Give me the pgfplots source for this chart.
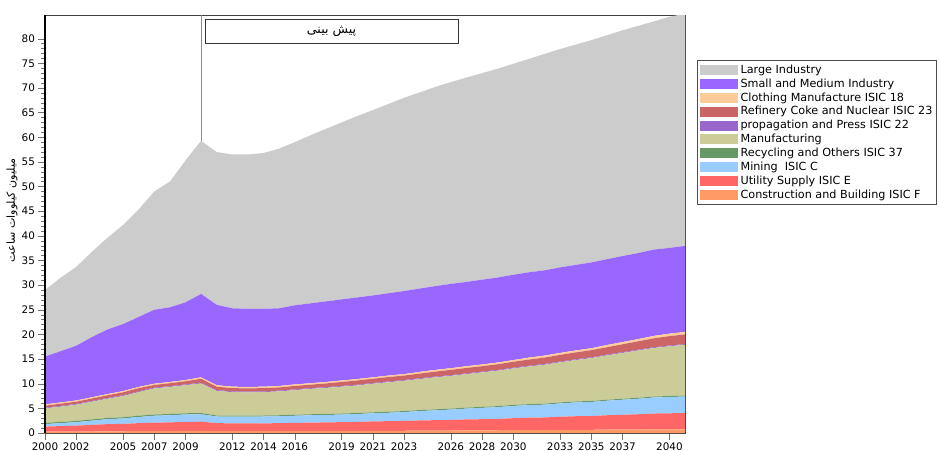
\documentclass[border=0pt]{standalone}
\usepackage{pgfplots}
\pgfplotsset{compat=1.18}
\usepackage{pgfplotstable}
\usepackage{fontspec}
\setmainfont{DejaVu Sans}
\newfontfamily\arabicfont[Script=Arabic]{DejaVu Sans}
\TeXXeTstate=1

\definecolor{cLarge}{HTML}{CCCCCC}
\definecolor{cSME}{HTML}{9966FF}
\definecolor{cCloth}{HTML}{FFCC99}
\definecolor{cRefin}{HTML}{CC6666}
\definecolor{cProp}{HTML}{9966CC}
\definecolor{cManuf}{HTML}{CCCC99}
\definecolor{cRecyc}{HTML}{669966}
\definecolor{cMining}{HTML}{99CCFF}
\definecolor{cUtil}{HTML}{FF6666}
\definecolor{cConst}{HTML}{FF9966}

% million kWh per sector (stacked bottom to top)
\pgfplotstableread{
year C    U    Mi   R    Ma    P    Rf   Cl   S     L
2000 0.30 1.00 0.50 0.25 2.95  0.15 0.40 0.25 9.70  13.50
2001 0.30 1.10 0.60 0.25 3.10  0.15 0.45 0.25 10.40 14.90
2002 0.30 1.20 0.70 0.25 3.30  0.15 0.45 0.25 11.10 16.00
2003 0.30 1.35 0.85 0.25 3.60  0.15 0.50 0.25 12.20 17.30
2004 0.35 1.45 1.00 0.25 3.90  0.15 0.55 0.25 13.10 18.60
2005 0.35 1.50 1.10 0.25 4.30  0.15 0.60 0.25 13.60 20.10
2006 0.40 1.60 1.25 0.25 4.80  0.15 0.65 0.25 14.20 21.80
2007 0.40 1.70 1.40 0.25 5.30  0.15 0.55 0.25 15.00 24.00
2008 0.40 1.75 1.45 0.25 5.50  0.15 0.60 0.25 15.15 25.50
2009 0.45 1.80 1.50 0.25 5.70  0.15 0.65 0.25 15.75 28.80
2010 0.45 1.85 1.50 0.25 6.00  0.15 0.80 0.30 16.90 31.10
2011 0.40 1.60 1.35 0.20 5.00  0.15 0.70 0.30 16.30 31.00
2012 0.40 1.55 1.35 0.20 4.80  0.15 0.65 0.30 15.90 31.20
2013 0.40 1.55 1.35 0.20 4.75  0.15 0.65 0.30 15.85 31.30
2014 0.40 1.55 1.40 0.20 4.75  0.15 0.65 0.30 15.80 31.60
2015 0.40 1.60 1.40 0.20 4.85  0.15 0.65 0.30 15.75 32.40
2016 0.40 1.65 1.45 0.20 5.00  0.15 0.70 0.30 16.05 33.10
2017 0.40 1.70 1.50 0.20 5.15  0.15 0.70 0.30 16.20 34.10
2018 0.40 1.75 1.50 0.20 5.30  0.15 0.75 0.30 16.35 35.00
2019 0.40 1.80 1.55 0.20 5.45  0.15 0.80 0.30 16.45 35.90
2020 0.40 1.85 1.60 0.20 5.60  0.15 0.85 0.30 16.55 36.80
2021 0.45 1.90 1.65 0.20 5.80  0.15 0.85 0.30 16.60 37.60
2022 0.45 1.95 1.70 0.20 6.00  0.15 0.90 0.30 16.70 38.40
2023 0.45 2.00 1.80 0.20 6.15  0.15 0.90 0.30 16.85 39.20
2024 0.50 2.05 1.90 0.20 6.30  0.15 0.95 0.35 16.90 39.80
2025 0.50 2.10 2.00 0.20 6.50  0.15 1.00 0.35 17.00 40.40
2026 0.50 2.15 2.10 0.20 6.65  0.15 1.05 0.35 17.10 40.95
2027 0.55 2.20 2.20 0.20 6.80  0.15 1.10 0.35 17.10 41.45
2028 0.55 2.25 2.30 0.20 7.00  0.15 1.10 0.35 17.20 41.90
2029 0.55 2.30 2.40 0.20 7.20  0.15 1.15 0.35 17.25 42.35
2030 0.60 2.40 2.50 0.20 7.40  0.15 1.20 0.35 17.30 42.80
2031 0.60 2.50 2.55 0.20 7.65  0.15 1.25 0.40 17.30 43.30
2032 0.60 2.55 2.60 0.20 7.90  0.15 1.30 0.40 17.30 43.90
2033 0.65 2.65 2.70 0.20 8.15  0.15 1.35 0.40 17.35 44.30
2034 0.65 2.75 2.80 0.20 8.40  0.15 1.40 0.40 17.35 44.70
2035 0.65 2.80 2.85 0.20 8.70  0.15 1.45 0.40 17.40 45.10
2036 0.70 2.90 2.95 0.20 9.00  0.15 1.50 0.45 17.40 45.45
2037 0.70 3.00 3.05 0.20 9.30  0.15 1.60 0.45 17.45 45.80
2038 0.70 3.10 3.15 0.20 9.60  0.15 1.70 0.45 17.45 46.10
2039 0.75 3.20 3.25 0.20 9.85  0.15 1.80 0.50 17.50 46.30
2040 0.75 3.25 3.30 0.20 10.10 0.15 1.90 0.50 17.40 46.90
2041 0.75 3.30 3.35 0.20 10.30 0.15 1.95 0.50 17.45 47.10
}\energy

\pgfplotsset{
  myarea/.style={fill=#1, draw=none,
    legend image code/.code={\fill[#1] (0pt,-3.8pt) rectangle (29pt,3.8pt);}},
}

\begin{document}
\begin{tikzpicture}
\begin{axis}[
    name=ax,
    scale only axis,
    width=480pt, height=313.5pt,
    xmin=2000, xmax=2041,
    ymin=0, ymax=84.8,
    stack plots=y,
    xtick={2000,2002,2005,2007,2009,2012,2014,2016,2019,2021,2023,2026,2028,2030,2033,2035,2037,2040},
    ytick={0,5,...,80},
    minor y tick num=4,
    xtick pos=bottom, ytick pos=left,
    tick align=outside,
    major tick length=5pt,
    minor tick length=3pt,
    tick style={black!55},
    axis line style={black!75},
    /pgf/number format/1000 sep={},
    /pgf/number format/assume math mode=true,
    tick label style={font=\fontsize{7.8}{9}\selectfont},
    xticklabel style={yshift=1pt},
    yticklabel style={xshift=1pt},
    reverse legend,
    legend cell align=left,
    legend style={at={(1.01875,0.8923)}, anchor=north west,
        draw=black!70, line width=1pt,
        font=\fontsize{8.4}{9.4}\selectfont,
        inner sep=1.5pt, row sep=-0.9pt,
        nodes={inner sep=1.7pt}},
]
\addplot[myarea=cConst]  table[x=year, y=C]  {\energy} \closedcycle;
\addplot[myarea=cUtil]   table[x=year, y=U]  {\energy} \closedcycle;
\addplot[myarea=cMining] table[x=year, y=Mi] {\energy} \closedcycle;
\addplot[myarea=cRecyc]  table[x=year, y=R]  {\energy} \closedcycle;
\addplot[myarea=cManuf]  table[x=year, y=Ma] {\energy} \closedcycle;
\addplot[myarea=cProp]   table[x=year, y=P]  {\energy} \closedcycle;
\addplot[myarea=cRefin]  table[x=year, y=Rf] {\energy} \closedcycle;
\addplot[myarea=cCloth]  table[x=year, y=Cl] {\energy} \closedcycle;
\addplot[myarea=cSME]    table[x=year, y=S]  {\energy} \closedcycle;
\addplot[myarea=cLarge]  table[x=year, y=L]  {\energy} \closedcycle;
\legend{Construction and Building ISIC F, Utility Supply ISIC E, Mining\ \ ISIC C,
  Recycling and Others ISIC 37, Manufacturing, propagation and Press ISIC 22,
  Refinery Coke and Nuclear ISIC 23, Clothing Manufacture ISIC 18,
  Small and Medium Industry, Large Industry}
\draw[black!45, line width=0.7pt] (axis cs:2010,0) -- (axis cs:2010,84.8);
\end{axis}
\draw[black, line width=1.3pt] (ax.south west) -- (ax.north west);
\node[draw=black!80, fill=white, line width=0.6pt, minimum width=189.75pt,
  minimum height=18pt, inner sep=0pt, font=\arabicfont\fontsize{9.5}{11}\selectfont]
  at (214.9pt,301.5pt) {\beginR پیش بینی\endR};
\node[rotate=90, inner sep=0pt, font=\arabicfont\fontsize{8.3}{9}\selectfont]
  at (-24.75pt,167.1pt) {\beginR میلیون کیلووات ساعت\endR};
\pgfresetboundingbox
\useasboundingbox (-33.75pt,-12.75pt) rectangle (670.5pt,324.75pt);
\end{tikzpicture}
\end{document}
